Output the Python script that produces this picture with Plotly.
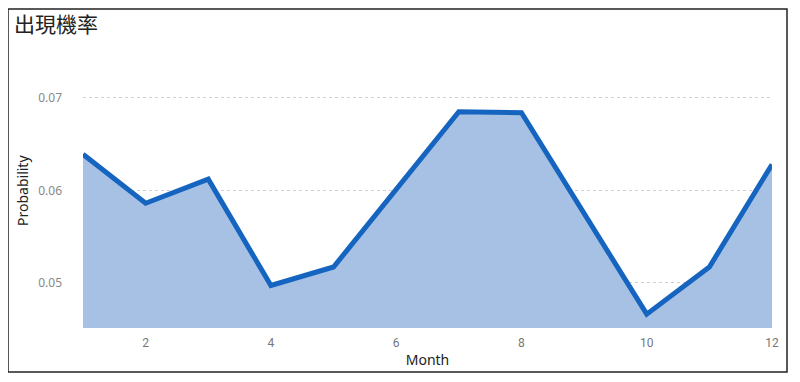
import plotly.graph_objects as go

months = [1, 2, 3, 4, 5, 6, 7, 8, 9, 10, 11, 12]
probability = [0.0639, 0.0586, 0.0612, 0.0497, 0.0517, 0.0601, 0.0685, 0.0684, 0.0576, 0.0466, 0.0517, 0.0628]
x_ticks = [2, 4, 6, 8, 10, 12]
y_ticks = [0.05, 0.06, 0.07]
y_range = [0.0451, 0.0741]

fig = go.Figure()
fig.add_trace(go.Scatter(
    x=months, y=probability, mode="lines",
    line=dict(color="#1565c0", width=5),
    fill="tozeroy", fillcolor="#a6c1e4",
    hoverinfo="x+y",
))

W, H = 784, 366
L, R, T, B = 75, 20, 52, 46
pw, ph = W - L - R, H - T - B

fig.update_layout(
    width=W, height=H,
    margin=dict(l=L, r=R, t=T, b=B, autoexpand=False),
    paper_bgcolor="white", plot_bgcolor="white",
    showlegend=False,
    title=dict(text="出現機率", x=6 / W, xanchor="left", y=1 - 17 / H, yanchor="middle",
               font=dict(family="Noto Sans CJK TC", size=21, color="#222222")),
    xaxis=dict(range=[1, 12], tickvals=x_ticks, showgrid=False, zeroline=False,
               showline=False, ticks="", ticklabelstandoff=6, automargin=False,
               tickfont=dict(family="Roboto", size=12, color="#777777"),
               title=dict(text="Month", standoff=6,
                          font=dict(family="Noto Sans", size=14, color="#222222"))),
    yaxis=dict(range=y_range, tickvals=y_ticks, tickformat=".2f", automargin=False,
               showgrid=True, gridcolor="#d0d0d0", griddash="dot", gridwidth=1,
               zeroline=False, showline=False, ticks="", ticklabelstandoff=20,
               tickfont=dict(family="Noto Sans", size=12, color="#888888")),
    annotations=[dict(text="Probability", textangle=-90, xref="paper", yref="paper",
                      x=(14 - L) / pw, y=(H - B - 182) / ph, xanchor="center", yanchor="middle",
                      showarrow=False,
                      font=dict(family="Noto Sans", size=14, color="#222222"))],
    shapes=[dict(type="rect", xref="paper", yref="paper",
                 x0=(0 - L) / pw, x1=(779 - L) / pw,
                 y0=(H - B - 364) / ph, y1=(H - B - 1) / ph,
                 line=dict(color="#222222", width=1.5), fillcolor="rgba(0,0,0,0)",
                 layer="above")],
)

fig.write_html("out.html")
